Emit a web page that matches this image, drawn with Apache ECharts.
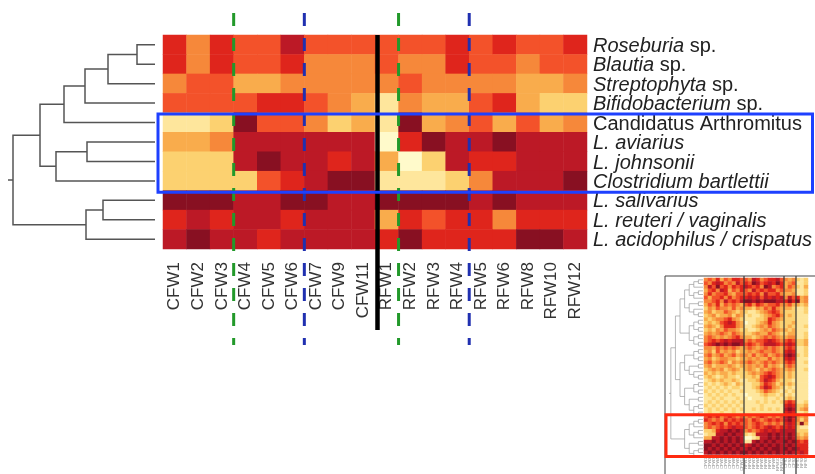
<!DOCTYPE html>
<html><head><meta charset="utf-8">
<script src="https://cdn.jsdelivr.net/npm/echarts@6/dist/echarts.min.js"></script>
<style>html,body{margin:0;padding:0;background:#fff}#c{width:815px;height:474px}</style>
</head><body><div id="c"></div>
<script>
// ---------- main heatmap data ----------
const samples = ['CFW1','CFW2','CFW3','CFW4','CFW5','CFW6','CFW7','CFW9','CFW11','RFW1','RFW2','RFW3','RFW4','RFW5','RFW6','RFW8','RFW10','RFW12'];
const taxa = ['Roseburia sp.','Blautia sp.','Streptophyta sp.','Bifidobacterium sp.','Candidatus Arthromitus','L. aviarius','L. johnsonii','Clostridium bartlettii','L. salivarius','L. reuteri / vaginalis','L. acidophilus / crispatus'];
// relative abundance level, 0 (low, pale) .. 8 (high, dark red); sample order as above
const roseburia       = [6,4,6,5,5,7,5,5,5, 5,5,5,6,5,6,5,5,6];
const blautia         = [6,4,6,5,5,6,4,4,4, 5,4,4,6,5,5,4,5,5];
const streptophyta    = [4,5,5,3,3,4,4,4,4, 4,5,4,4,4,4,3,3,4];
const bifidobacterium = [5,5,5,5,6,6,5,4,3, 1,4,3,3,5,6,3,2,2];
const candidatus      = [1,1,2,8,5,5,4,2,3, 1,8,3,4,5,3,5,3,4];
const aviarius        = [3,3,4,7,7,7,7,7,7, 0,6,8,7,7,8,7,7,7];
const johnsonii       = [2,2,2,7,8,7,7,6,7, 3,0,2,7,6,6,7,7,7];
const bartlettii      = [2,2,2,2,5,6,7,8,8, 1,1,1,2,4,7,7,7,8];
const salivarius      = [8,8,8,7,7,8,8,7,7, 8,8,8,8,7,8,7,7,7];
const reuteri         = [6,7,6,7,7,6,7,7,7, 3,6,5,6,6,4,6,6,6];
const acidophilus     = [7,8,7,7,6,7,7,7,7, 6,8,6,6,6,6,8,8,7];
const rows = [roseburia, blautia, streptophyta, bifidobacterium, candidatus, aviarius, johnsonii, bartlettii, salivarius, reuteri, acidophilus];

// dendrogram merges: [child A, child B, merge height]; numbers = leaf rows, 'nK' = K-th merge
const dendroMerges = [
  [0, 1, 18], ['n0', 2, 47], ['n1', 3, 70], ['n2', 4, 91],
  [5, 6, 68], ['n4', 7, 99], ['n3', 'n5', 115],
  [8, 9, 52], ['n7', 10, 69], ['n6', 'n8', 142]
];
const dendroMax = 147;

// annotations
const phaseBreaks = ['CFW4', 'RFW2'];   // green dashed
const dietBreaks = ['CFW7', 'RFW5'];    // blue dashed
const groupBreak = 'RFW1';              // black solid
const highlighted = ['Candidatus Arthromitus', 'Clostridium bartlettii'];

// ---------- inset (full heatmap thumbnail) ----------
const insetSamples = ['CFW1','CFW2','CFW3','CFW4','CFW5','CFW6','CFW7','CFW8','CFW9','CFW11','RFW1','RFW2','RFW3','RFW4','RFW5','RFW6','RFW7','RFW8','RFW10','RFW12','CFS1','CFS2','CFS3','RFS1','RFS2','RFS3'];
const insetRows = [
"4546354665 5476456675 434 212",
"5467645475 6587567686 345 112",
"4758564656 7656487456 354 213",
"3564763546 5475656645 443 112",
"4645564355 5656475564 334 112",
"5355646456 6767576767 475 634",
"4456475657 8878788877 686 834",
"3546354543 5646545564 453 323",
"2435443534 3324354643 332 112",
"3423354323 2112345653 222 112",
"2342334243 1211234564 232 111",
"3234456432 1112236543 222 111",
"2323567643 0112346432 223 111",
"3432466643 1123435432 232 112",
"2324354432 2112343543 323 111",
"3434543543 2234335432 233 112",
"4543434564 3323454543 344 112",
"4565676777 4545567654 565 223",
"5678787887 5654577765 676 223",
"4435454543 4543454543 565 112",
"3425343423 3434544543 676 112",
"4534534534 4353453454 787 212",
"3423443323 3434335343 676 111",
"4534542434 4543454543 565 112",
"3423334323 3434353432 454 111",
"2343423432 3432434543 343 112",
"3232332322 2343456543 232 111",
"2321232212 2232567643 232 111",
"1232322321 1223576532 221 111",
"2121232132 1122465423 232 111",
"1212121221 1123576432 121 111",
"2121212112 1112354321 212 111",
"1212121211 0111232212 121 111",
"1121211121 1011121121 232 111",
"1212121212 1112121212 565 112",
"2121212121 1111211111 676 223",
"1212121212 1121212121 787 234",
"1211211211 1111111111 676 112",
"5656456545 4545654545 787 434",
"6545465656 5465456565 786 424",
"4565646565 5456545454 676 383",
"4545656766 5456567656 676 211",
"2236778787 4545676767 777 222",
"1227787877 2127778787 787 323",
"3377878787 0012778787 787 434",
"7787878787 1178787877 878 656",
"8878787878 6787878787 787 666",
"8787878787 7878787887 878 766",
"7878787878 8787878787 787 676"
];
const insetSectionBreaks = [10, 20, 23];
const insetHighlightFrom = 38;
const insetTree = [
  [[[[[[0,1],2],[[3,4],5]],[[6,7],[8,[9,10]]]],[[[11,12],[13,14]],[[15,16],[17,18]]]],
   [[[[19,20],[21,22]],[[23,24],[25,[26,27]]]],[[[28,29],[30,31]],[[32,33],[[34,35],[36,37]]]]]],
  [[[[38,39],40],[[41,42],43]],[[44,45],[[46,47],48]]]
];

// ---------- build ----------
const levelColors = ['#FFFACB','#FEE69C','#FCD170','#F9AC4C','#F6883A','#F3522A','#DF251C','#BC1926','#881022'];
const FONT = 'Liberation Sans, Arial, sans-serif';

const heatData = [];
rows.forEach((r, yi) => r.forEach((v, xi) => heatData.push([xi, yi, v])));

// dendrogram node layout
const nodes = [];
function ref(r) { return typeof r === 'number' ? {h: 0, y: r} : nodes[+r.slice(1)]; }
const dendroSegs = [];
dendroMerges.forEach(m => {
  const a = ref(m[0]), b = ref(m[1]), h = m[2];
  dendroSegs.push([[a.h, a.y], [h, a.y], [h, b.y], [b.h, b.y]]);
  nodes.push({h: h, y: (a.y + b.y) / 2});
});
const rootNode = nodes[nodes.length - 1];
dendroSegs.push([[rootNode.h, rootNode.y], [dendroMax, rootNode.y]]);

const insetData = [];
insetRows.forEach((s, yi) => s.replace(/ /g, '').split('').forEach((ch, xi) => insetData.push([xi, yi, +ch])));
const insetSegs = [];
function layout(t) {
  if (typeof t === 'number') return {h: 0, y: t};
  const a = layout(t[0]), b = layout(t[1]);
  const h = Math.max(a.h, b.h) + 1;
  insetSegs.push([[a.h, a.y], [h, a.y], [h, b.y], [b.h, b.y]]);
  return {h: h, y: (a.y + b.y) / 2};
}
const insetRoot = layout(insetTree);
insetSegs.push([[insetRoot.h, insetRoot.y], [insetRoot.h + 0.4, insetRoot.y]]);

const italicize = name => {
  if (name.startsWith('Candidatus')) return '{n|' + name + '}';
  if (name.endsWith(' sp.')) return '{i|' + name.slice(0, -4) + '}{n| sp.}';
  return '{i|' + name + '}';
};

const annotations = [];
phaseBreaks.forEach(s => annotations.push({kind: 'phase', col: samples.indexOf(s)}));
dietBreaks.forEach(s => annotations.push({kind: 'diet', col: samples.indexOf(s)}));
annotations.push({kind: 'split', col: samples.indexOf(groupBreak)});
annotations.push({kind: 'box', r0: taxa.indexOf(highlighted[0]), r1: taxa.indexOf(highlighted[1])});

const chart = echarts.init(document.getElementById('c'), null, {renderer: 'canvas'});
chart.setOption({
  backgroundColor: '#fff',
  animation: false,
  grid: [
    {left: 163, top: 35, width: 424, height: 214},
    {left: 8, top: 35, width: 147, height: 214},
    {left: 704, top: 278, width: 104, height: 180},
    {left: 669, top: 278, width: 34, height: 180}
  ],
  xAxis: [
    {type: 'category', gridIndex: 0, data: samples, axisLine: {show: false}, axisTick: {show: false}, splitLine: {show: false},
     axisLabel: {rotate: 90, margin: 13, fontSize: 17, color: '#333', fontFamily: FONT, interval: 0}},
    {type: 'value', gridIndex: 1, min: 0, max: dendroMax, inverse: true, show: false},
    {type: 'category', gridIndex: 2, data: insetSamples, axisLine: {show: false}, axisTick: {show: false}, splitLine: {show: false},
     axisLabel: {rotate: 90, margin: 3, fontSize: 4, color: '#888', fontFamily: FONT, interval: 0}},
    {type: 'value', gridIndex: 3, min: 0, max: insetRoot.h + 0.4, inverse: true, show: false}
  ],
  yAxis: [
    {type: 'category', gridIndex: 0, data: taxa, inverse: true, position: 'right', axisLine: {show: false}, axisTick: {show: false}, splitLine: {show: false},
     axisLabel: {margin: 6, fontSize: 20, color: '#222', fontFamily: FONT, interval: 0, formatter: italicize, padding: [3, 0, 0, 0],
       rich: {i: {fontStyle: 'italic', fontSize: 20, color: '#222', fontFamily: FONT}, n: {fontSize: 20, color: '#222', fontFamily: FONT}}}},
    {type: 'value', gridIndex: 1, min: -0.5, max: taxa.length - 0.5, inverse: true, show: false},
    {type: 'category', gridIndex: 2, data: insetRows.map((_, i) => i), inverse: true, show: false},
    {type: 'value', gridIndex: 3, min: -0.5, max: insetRows.length - 0.5, inverse: true, show: false}
  ],
  visualMap: {type: 'continuous', show: false, min: 0, max: 8, seriesIndex: [0, 3], inRange: {color: levelColors}},
  series: [
    {type: 'heatmap', xAxisIndex: 0, yAxisIndex: 0, data: heatData, itemStyle: {borderWidth: 0}, emphasis: {disabled: true}},
    {type: 'custom', xAxisIndex: 1, yAxisIndex: 1, data: dendroSegs.map((_, i) => i), silent: true,
     renderItem: (p, api) => ({type: 'polyline', shape: {points: dendroSegs[p.dataIndex].map(pt => api.coord(pt))},
       style: {stroke: '#555', lineWidth: 1.5, fill: null}})},
    {type: 'custom', xAxisIndex: 0, yAxisIndex: 0, data: annotations.map((_, i) => i), z: 5, silent: true, clip: false,
     renderItem: (p, api) => {
       const a = annotations[p.dataIndex];
       const cs = p.coordSys;
       const bw = api.size([1, 0])[0], bh = api.size([0, 1])[1];
       if (a.kind === 'box') {
         const top = api.coord([0, a.r0])[1] - bh / 2 + 1.2;
         const bot = api.coord([0, a.r1])[1] + bh / 2 + 1.7;
         return {type: 'rect', shape: {x: cs.x - 5, y: top, width: cs.width + 230.5, height: bot - top},
           style: {stroke: '#1E40FF', lineWidth: 3, fill: null}};
       }
       const x = api.coord([a.col, 0])[0] - bw / 2;
       if (a.kind === 'split') {
         return {type: 'line', shape: {x1: x + 2.5, y1: cs.y, x2: x + 2.5, y2: cs.y + cs.height + 81},
           style: {stroke: '#000', lineWidth: 4.5}};
       }
       return {type: 'line', shape: {x1: x, y1: cs.y - 22, x2: x, y2: cs.y + cs.height + 96},
         style: {stroke: a.kind === 'phase' ? '#22992A' : '#2030B0', lineWidth: 3, lineDash: [13, 12]}};
     }},
    {type: 'heatmap', xAxisIndex: 2, yAxisIndex: 2, data: insetData, itemStyle: {borderWidth: 0}, emphasis: {disabled: true}},
    {type: 'custom', xAxisIndex: 3, yAxisIndex: 3, data: insetSegs.map((_, i) => i), silent: true,
     renderItem: (p, api) => ({type: 'polyline', shape: {points: insetSegs[p.dataIndex].map(pt => api.coord(pt))},
       style: {stroke: '#999', lineWidth: 0.7, fill: null}})},
    {type: 'custom', xAxisIndex: 2, yAxisIndex: 2, data: [0, 1, 2, 3, 4, 5], z: 5, silent: true, clip: false,
     renderItem: (p, api) => {
       const cs = p.coordSys;
       const bw = api.size([1, 0])[0], bh = api.size([0, 1])[1];
       const i = p.dataIndex;
       if (i < insetSectionBreaks.length) {
         const x = api.coord([insetSectionBreaks[i], 0])[0] - bw / 2;
         return {type: 'line', shape: {x1: x, y1: cs.y - 2, x2: x, y2: cs.y + cs.height + 20}, style: {stroke: '#333', lineWidth: 1.2}};
       }
       if (i === 3) return {type: 'line', shape: {x1: cs.x - 39, y1: cs.y - 2, x2: cs.x - 39, y2: cs.y + cs.height + 20}, style: {stroke: '#444', lineWidth: 1}};
       if (i === 4) return {type: 'line', shape: {x1: cs.x - 39, y1: cs.y - 2, x2: cs.x + cs.width + 10, y2: cs.y - 2}, style: {stroke: '#444', lineWidth: 1}};
       const top = api.coord([0, insetHighlightFrom])[1] - bh / 2;
       return {type: 'rect', shape: {x: cs.x - 38, y: top, width: cs.width + 52, height: cs.y + cs.height + 2 - top},
         style: {stroke: '#FF2A10', lineWidth: 3, fill: null}};
     }}
  ]
});
</script></body></html>
